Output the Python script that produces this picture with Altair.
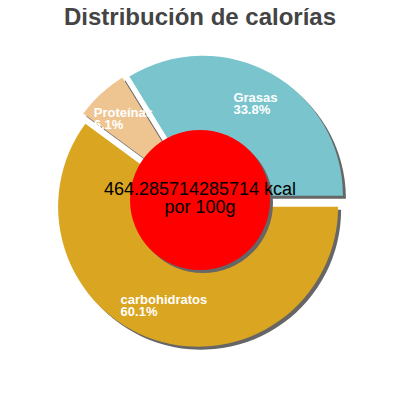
import math
import altair as alt
import pandas as pd

# ---- data ----
labels = ["carbohidratos", "Proteínas", "Grasas"]
values = [60.1, 6.1, 33.8]
percent_labels = ["60.1%", "6.1%", "33.8%"]
colors = ["#DAA520", "#EEC591", "#7AC5CD"]
kcal = [464.285714285714]
kcal_unit = ["kcal"]
per_text = ["por 100g"]
title_text = ["Distribución de calorías"]

# ---- layout / style ----
W, H = 384, 384
CX, CY = 192, 193
R_OUT = 140
R_IN = 70
EXPLODE = 6
LABEL_R = 105
SHADOW = 3
SHADOW_COLOR = "#666666"
START = math.pi / 2
FONT = "Liberation Sans"
LABEL_SIZE = 13
CHAR_W = 0.265 * LABEL_SIZE

slices = pd.DataFrame({
    "label": labels,
    "value": values,
    "pct": percent_labels,
    "idx": list(range(len(labels))),
})
center = pd.DataFrame({"kcal": kcal, "unit": kcal_unit, "per": per_text})
titles = pd.DataFrame({"t": title_text})

base = (
    alt.Chart(slices)
    .transform_window(cum="sum(value)", sort=[alt.SortField("idx")], frame=[None, 0])
    .transform_joinaggregate(total="sum(value)")
    .transform_calculate(
        a0=f"{START} + 2*PI*(datum.cum - datum.value)/datum.total",
        a1=f"{START} + 2*PI*datum.cum/datum.total",
    )
    .transform_calculate(mid="(datum.a0 + datum.a1)/2")
    .transform_calculate(
        cx=f"{CX} + {EXPLODE}*sin(datum.mid)",
        cy=f"{CY} - {EXPLODE}*cos(datum.mid)",
    )
    .transform_calculate(
        lx=f"datum.cx + {LABEL_R}*sin(datum.mid) - length(datum.label)*{CHAR_W}",
        ly=f"datum.cy - {LABEL_R}*cos(datum.mid)",
        txt="[datum.label, datum.pct]",
    )
)

arc_enc = dict(
    theta=alt.Theta("a0:Q", scale=None, stack=False),
    theta2=alt.Theta2("a1:Q"),
    x=alt.X("cx:Q", scale=None),
    y=alt.Y("cy:Q", scale=None),
)

shadows = base.mark_arc(radius=R_OUT, color=SHADOW_COLOR, xOffset=SHADOW, yOffset=SHADOW).encode(**arc_enc)
pie = base.mark_arc(radius=R_OUT).encode(
    **arc_enc,
    color=alt.Color("label:N", scale=alt.Scale(domain=labels, range=colors), legend=None),
)

slice_labels = base.mark_text(
    align="left", baseline="middle", color="white", font=FONT,
    fontSize=LABEL_SIZE, fontWeight="bold", lineHeight=12, dy=-6,
).encode(
    x=alt.X("lx:Q", scale=None),
    y=alt.Y("ly:Q", scale=None),
    text="txt:N",
)

cbase = alt.Chart(center).transform_calculate(
    txt="[toString(datum.kcal) + ' ' + datum.unit, datum.per]"
)
center_shadow = cbase.mark_arc(radius=R_IN, color=SHADOW_COLOR, xOffset=SHADOW, yOffset=SHADOW).encode(
    theta=alt.Theta("kcal:Q")
)
center_disk = cbase.mark_arc(radius=R_IN, color="#FF0000").encode(theta=alt.Theta("kcal:Q"))
center_text = cbase.mark_text(
    align="center", baseline="middle", color="black", font=FONT,
    fontSize=18, lineHeight=18, dy=-10,
).encode(text="txt:N")

title = alt.Chart(titles).mark_text(
    align="center", baseline="alphabetic", font=FONT, fontSize=24,
    fontWeight="bold", color="#444444",
).encode(x=alt.value(W / 2), y=alt.value(17), text="t:N")

chart = (
    alt.layer(shadows, pie, center_shadow, center_disk, center_text, slice_labels, title)
    .resolve_scale(theta="independent")
    .properties(
        width=W,
        height=H,
        autosize=alt.AutoSizeParams(type="none"),
        padding=0,
    )
    .configure_view(stroke=None)
)

chart.save("out.html", embed_options={"renderer": "svg", "actions": False})
